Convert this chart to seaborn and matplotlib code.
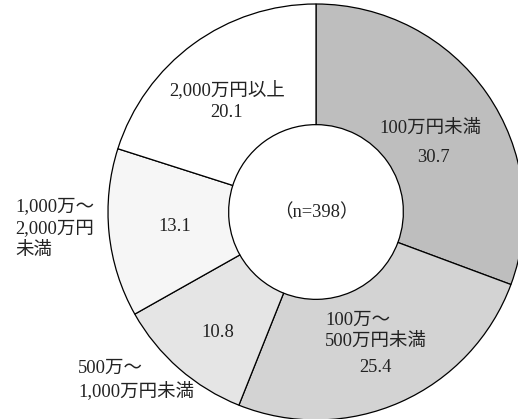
import matplotlib
matplotlib.use("Agg")
import matplotlib.pyplot as plt
import seaborn as sns

# Annual income brackets and their shares (%)
categories = ["100万円未満", "100万～\n500万円未満", "500万～\n1,000万円未満",
              "1,000万～\n2,000万円\n未満", "2,000万円以上"]
shares = [30.7, 25.4, 10.8, 13.1, 20.1]
sample_label = "（n=398）"
grays = ["#bebebe", "#d3d3d3", "#e5e5e5", "#f6f6f6", "#ffffff"]

sns.set_style("white")
plt.rcParams["font.family"] = ["Liberation Serif", "Noto Sans CJK JP"]

fig = plt.figure(figsize=(5.18, 4.19), dpi=100)
W, H = 518, 419
cx, cy, R = 316, 212, 208
ax = fig.add_axes([(cx - R) / W, (H - cy - R) / H, 2 * R / W, 2 * R / H])

wedges, _ = ax.pie(shares, colors=grays, startangle=90, counterclock=False,
                   radius=1.0,
                   wedgeprops=dict(width=1 - 0.42, edgecolor="black", linewidth=0.9))
ax.set_xlim(-1, 1)
ax.set_ylim(-1, 1)
ax.set_aspect("equal")
ax.axis("off")

fs = 13.3
ls = 1.32
txt = dict(fontsize=fs, color="#222222")

# category names
ax.text(0.548, 0.404, categories[0], ha="center", va="center", **txt)
ax.text(0.043, -0.572, categories[1], ha="left", va="center", linespacing=ls, **txt)
ax.text(-1.144, -0.808, categories[2], ha="left", va="center", linespacing=ls, **txt)
ax.text(-1.447, -0.082, categories[3], ha="left", va="center", linespacing=ls, **txt)
ax.text(-0.428, 0.587, categories[4], ha="center", va="center", **txt)

# values
value_pos = [(0.5625, 0.26), (0.284, -0.75), (-0.471, -0.577), (-0.678, -0.072), (-0.428, 0.476)]
for v, (x, y) in zip(shares, value_pos):
    ax.text(x, y, f"{v:.1f}", ha="center", va="center", **txt)

ax.text(0, 0, sample_label, ha="center", va="center", **txt)

fig.savefig("out.png", dpi=100)
